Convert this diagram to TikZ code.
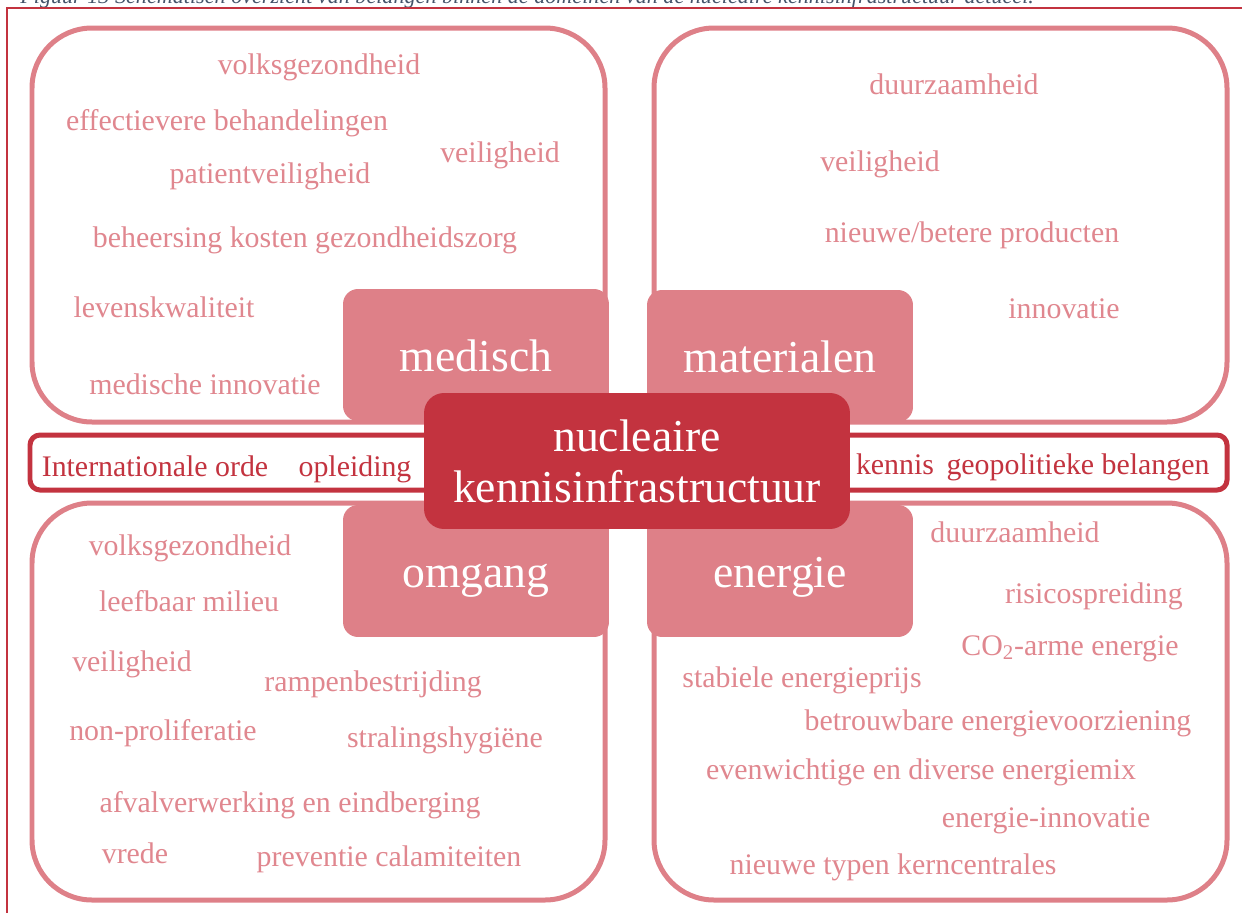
\documentclass[tikz,border=0pt]{standalone}
\usepackage{fontspec}
\setmainfont{Liberation Serif}
\usetikzlibrary{positioning}
\definecolor{roze}{HTML}{DE8088}
\definecolor{donkerrood}{HTML}{C3333F}
\definecolor{tekstroze}{HTML}{E0878F}
\definecolor{bijschrift}{HTML}{44546A}

\begin{document}
\begin{tikzpicture}[x=0.02cm, y=-0.02cm,
  kader/.style={draw=roze, line width=0.1cm, rounded corners=1.2cm},
  balk/.style={draw=donkerrood, fill=white, line width=0.1cm, rounded corners=0.2cm},
  domein/.style={fill=roze, text=white, rounded corners=0.3cm, minimum width=5.32cm, minimum height=2.64cm, text height=23pt, text depth=4pt, font=\fontsize{26}{29}\selectfont},
  kern/.style={fill=donkerrood, text=white, rounded corners=0.4cm, minimum width=8.52cm, minimum height=2.72cm, align=center, font=\fontsize{26}{29}\selectfont},
  belang/.style={text=tekstroze, inner sep=0pt, text height=1.5ex, text depth=.25ex, font=\fontsize{17}{20}\selectfont},
  dwars/.style={belang, text=donkerrood}]
  \useasboundingbox (0,0) rectangle (1242,913);
  \begin{scope}
    \clip (0,0) rectangle (1242,913);
    \node[anchor=base west, inner sep=0pt, text=bijschrift, font=\fontsize{12.6}{15}\selectfont\itshape] (bijschr) at (20,3) {Figuur 13 Schematisch overzicht van belangen binnen de domeinen van de nucleaire kennisinfrastructuur actueel.};
  \end{scope}
  \draw[donkerrood, line width=0.04cm] (7,913) -- (7,8) -- (1242,8);

  \draw[kader] (32,28) rectangle (605,422);
  \draw[kader] (654,28) rectangle (1227,422);
  \draw[kader] (32,503) rectangle (605,900);
  \draw[kader] (654,503) rectangle (1227,900);
  \draw[balk] (30,435) rectangle (1227,490);

  \node[domein] (medisch) at (476,355) {medisch};
  \node[domein] (materialen) at (780,356) {materialen};
  \node[domein] (omgang) at (476,571) {omgang};
  \node[domein] (energie) at (780,571) {energie};
  \node[kern] (nki) at (637,461) {nucleaire\\kennisinfrastructuur};

  \node[dwars] (internat) at (155,471) {Internationale orde};
  \node[dwars] (opleiding) at (355,471) {opleiding};
  \node[dwars] (kennis) at (895,469) {kennis};
  \node[dwars] (geopol) at (1078,469) {geopolitieke belangen};

  \node[belang] (med1) at (319,69) {volksgezondheid};
  \node[belang] (med2) at (227,125) {effectievere behandelingen};
  \node[belang] (med3) at (500,157) {veiligheid};
  \node[belang] (med4) at (270,178) {patientveiligheid};
  \node[belang] (med5) at (305,242) {beheersing kosten gezondheidszorg};
  \node[belang] (med6) at (164,312) {levenskwaliteit};
  \node[belang] (med7) at (205,389) {medische innovatie};

  \node[belang] (mat1) at (954,89) {duurzaamheid};
  \node[belang] (mat2) at (880,166) {veiligheid};
  \node[belang] (mat3) at (972,237) {nieuwe/betere producten};
  \node[belang] (mat4) at (1064,313) {innovatie};

  \node[belang] (omg1) at (190,550) {volksgezondheid};
  \node[belang] (omg2) at (189,606) {leefbaar milieu};
  \node[belang] (omg3) at (132,666) {veiligheid};
  \node[belang] (omg4) at (373,686) {rampenbestrijding};
  \node[belang] (omg5) at (163,735) {non-proliferatie};
  \node[belang] (omg6) at (445,742) {stralingshygiëne};
  \node[belang] (omg7) at (290,807) {afvalverwerking en eindberging};
  \node[belang] (omg8) at (135,858) {vrede};
  \node[belang] (omg9) at (389,861) {preventie calamiteiten};

  \node[belang] (ene1) at (1015,537) {duurzaamheid};
  \node[belang] (ene2) at (1094,598) {risicospreiding};
  \node[belang] (ene3) at (1070,650) {CO\textsubscript{2}-arme energie};
  \node[belang] (ene4) at (802,682) {stabiele energieprijs};
  \node[belang] (ene5) at (998,725) {betrouwbare energievoorziening};
  \node[belang] (ene6) at (921,774) {evenwichtige en diverse energiemix};
  \node[belang] (ene7) at (1046,822) {energie-innovatie};
  \node[belang] (ene8) at (893,869) {nieuwe typen kerncentrales};
\end{tikzpicture}
\end{document}
